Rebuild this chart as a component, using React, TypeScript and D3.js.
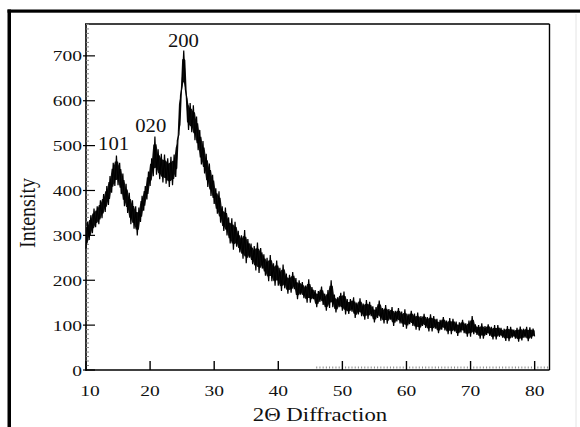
import React from "react";
import * as d3 from "d3";

// Sampling grid (2θ, degrees) and intensity
const thetaStart = 10;
const thetaEnd = 80;
const thetaStep = 0.25;
const intensity: number[] = [
  270, 330, 290, 345,
  305, 360, 318, 365,
  325, 378, 338, 392,
  352, 410, 368, 432,
  395, 462, 410, 478,
  412, 462, 392, 438,
  365, 415, 350, 395,
  325, 378, 315, 365,
  300, 362, 330, 388,
  355, 410, 380, 442,
  410, 472, 432, 520,
  435, 492, 425, 482,
  418, 480, 415, 472,
  408, 475, 412, 480,
  430, 512, 525, 612,
  632, 712, 625, 605,
  535, 595, 530, 590,
  512, 565, 490, 535,
  458, 510, 438, 482,
  408, 460, 388, 435,
  370, 405, 348, 398,
  328, 365, 310, 362,
  300, 340, 282, 338,
  268, 330, 275, 310,
  262, 300, 248, 312,
  238, 292, 250, 282,
  236, 276, 222, 284,
  216, 272, 226, 258,
  210, 250, 198, 256,
  198, 238, 188, 244,
  188, 228, 176, 235,
  182, 215, 170, 212,
  172, 218, 180, 205,
  158, 200, 168, 196,
  160, 188, 150, 202,
  150, 185, 158, 178,
  140, 176, 152, 186,
  145, 170, 132, 178,
  138, 200, 140, 168,
  128, 162, 140, 172,
  132, 175, 124, 158,
  125, 158, 130, 162,
  116, 150, 124, 160,
  120, 148, 112, 156,
  114, 152, 120, 142,
  106, 140, 116, 155,
  110, 138, 104, 145,
  103, 136, 112, 140,
  98, 132, 108, 138,
  104, 130, 96, 135,
  92, 125, 102, 132,
  98, 126, 90, 128,
  88, 120, 98, 125,
  94, 118, 86, 124,
  86, 120, 92, 114,
  82, 112, 90, 118,
  88, 110, 80, 116,
  80, 114, 86, 108,
  76, 106, 84, 112,
  82, 104, 74, 110,
  74, 120, 80, 102,
  78, 100, 70, 104,
  70, 98, 78, 102,
  76, 96, 68, 100,
  68, 100, 74, 94,
  72, 92, 65, 98,
  64, 96, 72, 90,
  70, 94, 63, 97,
  66, 92, 72, 96,
  64, 95, 70, 92,
  75,
];

const xTicks = [10, 20, 30, 40, 50, 60, 70, 80];
const yTicks = [0, 100, 200, 300, 400, 500, 600, 700];
const peakLabels = ["101", "020", "200"];
const peakPositions = [14.3, 20.1, 25.2];
const peakValues = [490, 530, 720];

const W = 580;
const H = 427;
const FONT = "'Liberation Serif', 'Times New Roman', serif";

export default function App() {
  const x = d3.scaleLinear().domain([10, 82.3]).range([86, 549.4]);
  const y = d3.scaleLinear().domain([0, 771]).range([370, 24]);
  const thetas = d3.range(thetaStart, thetaEnd + thetaStep / 2, thetaStep);
  const pts: [number, number][] = intensity.map((v, i) => [thetas[i], v]);
  const line = d3
    .line<[number, number]>()
    .x((d) => x(d[0]))
    .y((d) => y(d[1]));

  // noise band: local min / max of neighbouring samples
  const band = intensity.map((_, i) => {
    const win = intensity.slice(Math.max(0, i - 1), Math.min(intensity.length, i + 2));
    return { t: thetas[i], lo: d3.min(win) as number, hi: d3.max(win) as number };
  });
  const area = d3
    .area<{ t: number; lo: number; hi: number }>()
    .x((d) => x(d.t))
    .y0((d) => y(d.lo + (d.hi - d.lo) * 0.2))
    .y1((d) => y(d.hi - (d.hi - d.lo) * 0.2));

  const yMinor = d3.range(10, 771, 10).filter((v) => v % 100 !== 0);
  const xMinor = d3.range(46, 82.1, 0.5).filter((v) => v % 10 !== 0);

  return (
    <svg
      width={W}
      height={H}
      style={{ position: "fixed", left: 0, top: 0, background: "#fff" }}
      fontFamily={FONT}
    >
      <rect x={0} y={0} width={W} height={H} fill="#fff" />
      {/* outer frame */}
      <rect x={7.5} y={9.5} width={W} height={3.2} fill="#000" />
      <rect x={7.5} y={9.5} width={3.5} height={H} fill="#000" />
      <line x1={576} x2={576} y1={14} y2={H} stroke="#e4e4e4" strokeWidth={1} />

      {/* plot box */}
      <line x1={85} x2={549.5} y1={24} y2={24} stroke="#000" strokeWidth={1.6} />
      <line x1={549.5} x2={549.5} y1={24} y2={370} stroke="#000" strokeWidth={1.4} />
      <line x1={86} x2={86} y1={24} y2={371} stroke="#000" strokeWidth={1.6} />
      <line x1={86} x2={549.5} y1={370} y2={370} stroke="#000" strokeWidth={1.6} />

      {/* minor ticks */}
      {yMinor.map((v) => (
        <line key={"ym" + v} x1={86} x2={89} y1={y(v)} y2={y(v)} stroke="#888" strokeWidth={1} />
      ))}
      {xMinor.map((v) => (
        <line key={"xm" + v} x1={x(v)} x2={x(v)} y1={368.5} y2={366.5} stroke="#888" strokeWidth={1} />
      ))}

      {/* major ticks */}
      {yTicks.map((v) => (
        <line key={"yt" + v} x1={83} x2={95} y1={y(v)} y2={y(v)} stroke="#000" strokeWidth={1.2} />
      ))}
      {xTicks.map((v) => (
        <line key={"xt" + v} x1={x(v)} x2={x(v)} y1={370} y2={361} stroke="#000" strokeWidth={1.4} />
      ))}

      {/* tick labels */}
      {yTicks.map((v) => (
        <text
          key={"yl" + v}
          transform={`translate(82,${y(v) + 5.5}) scale(1.3,1)`}
          textAnchor="end"
          fontSize={15}
          fill="#111"
        >
          {v}
        </text>
      ))}
      {xTicks.map((v) => (
        <text
          key={"xl" + v}
          transform={`translate(${x(v) + (v === 10 ? 4 : 0)},396) scale(1.3,1)`}
          textAnchor="middle"
          fontSize={15}
          fill="#111"
        >
          {v}
        </text>
      ))}

      {/* data */}
      <path d={area(band) ?? ""} fill="#111" stroke="none" />
      <path
        d={line(pts) ?? ""}
        fill="none"
        stroke="#000"
        strokeWidth={1.2}
        strokeLinejoin="miter"
      />

      {/* peak labels */}
      {peakLabels.map((t, i) => (
        <text
          key={t}
          transform={`translate(${x(peakPositions[i])},${y(peakValues[i])}) scale(1.15,1)`}
          textAnchor="middle"
          fontSize={18}
          fill="#111"
        >
          {t}
        </text>
      ))}

      {/* axis titles */}
      <text
        transform="translate(35,213) rotate(-90) scale(1,1.2)"
        textAnchor="middle"
        fontSize={20}
        fill="#111"
      >
        Intensity
      </text>
      <text
        transform="translate(320,421) scale(1.2,1)"
        textAnchor="middle"
        fontSize={19}
        fill="#111"
      >
        2Θ Diffraction
      </text>
    </svg>
  );
}
